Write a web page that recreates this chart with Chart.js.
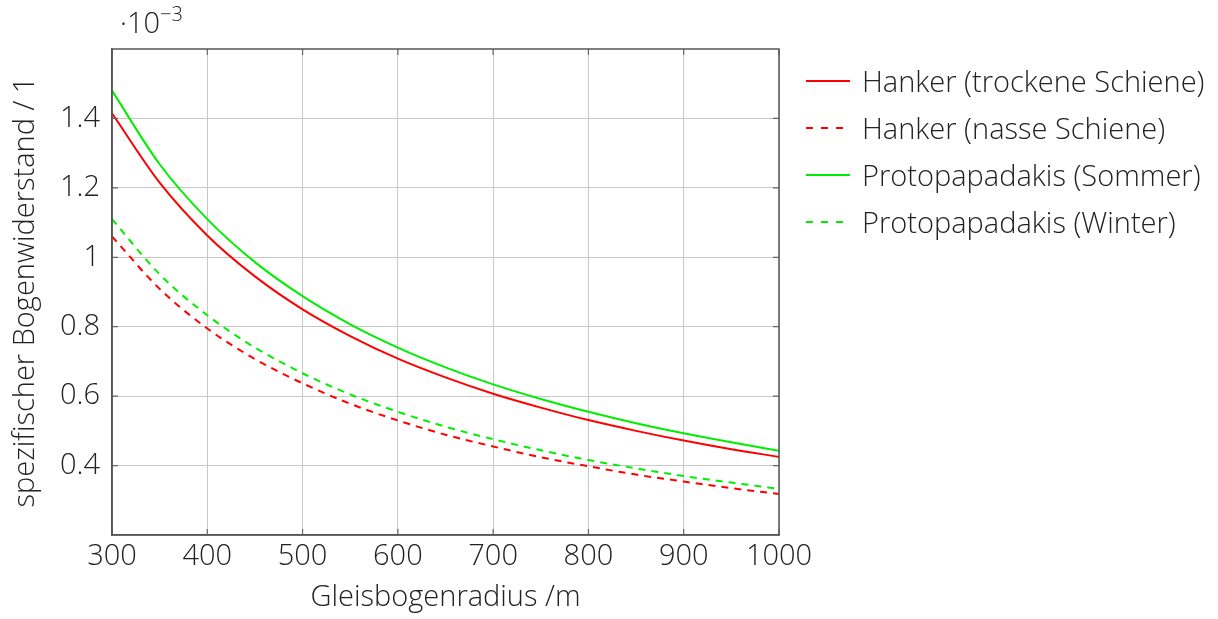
<!DOCTYPE html>
<html>
<head>
<meta charset="utf-8">
<script src="https://cdn.jsdelivr.net/npm/chart.js@4"></script>
<style>
  html, body { margin: 0; padding: 0; background: #fff; }
  .wrap { position: relative; width: 1218px; height: 619px; font-family: "Open Sans", sans-serif; font-weight: 300; color: #222; }
  canvas { position: absolute; left: 0; top: 0; }
  .exp { position: absolute; left: 120px; top: 2px; font-size: 29px; }
  .exp sup { font-size: 20px; position: relative; top: -2px; vertical-align: top; }
  .legend { position: absolute; left: 806px; top: 57px; font-size: 29px; }
  .legend .row { height: 47px; display: flex; align-items: center; }
  .legend svg { margin-right: 12px; }
</style>
</head>
<body>
<div class="wrap">
  <canvas id="myChart" width="1218" height="619"></canvas>
  <div class="exp">&middot;10<sup>&minus;3</sup></div>
  <div class="legend" id="legend"></div>
</div>
<script>
// ------------------------Data--------------------------------
const radius = [300, 350, 400, 450, 500, 550, 600, 650, 700, 750, 800, 850, 900, 950, 1000]
const hankerDry = [1.415, 1.215, 1.063, 0.945, 0.850, 0.773, 0.708, 0.654, 0.607, 0.567, 0.531, 0.500, 0.472, 0.447, 0.425]
const hankerWet = [1.060, 0.909, 0.795, 0.707, 0.637, 0.578, 0.530, 0.489, 0.455, 0.424, 0.398, 0.374, 0.354, 0.335, 0.318]
const protoSummer = [1.480, 1.268, 1.110, 0.986, 0.888, 0.807, 0.740, 0.683, 0.634, 0.592, 0.555, 0.522, 0.493, 0.467, 0.443]
const protoWinter = [1.110, 0.951, 0.833, 0.740, 0.666, 0.605, 0.555, 0.512, 0.476, 0.444, 0.416, 0.392, 0.370, 0.351, 0.333]
const xTicks = [300, 400, 500, 600, 700, 800, 900, 1000]
const yTicks = [0.4, 0.6, 0.8, 1, 1.2, 1.4]

const seriesNames = ['Hanker (trockene Schiene)', 'Hanker (nasse Schiene)', 'Protopapadakis (Sommer)', 'Protopapadakis (Winter)']
const seriesColors = ['#ff0000', '#ff0000', '#00ee00', '#00ee00']
const seriesDashed = [false, true, false, true]
const seriesValues = [hankerDry, hankerWet, protoSummer, protoWinter]

// ------------------------Build datasets------------------------------
const datasets = seriesValues.map((vals, i) => ({
  label: seriesNames[i],
  data: vals.map((v, j) => ({ x: radius[j], y: v })),
  borderColor: seriesColors[i],
  borderWidth: 2,
  borderDash: seriesDashed[i] ? [7, 6] : [],
  pointRadius: 0,
  cubicInterpolationMode: 'monotone',
  fill: false
}))

const tickFont = { family: 'Open Sans', weight: 300, size: 29 }

const chartConfig = {
  type: 'line',
  data: { datasets },
  options: {
    responsive: false,
    animation: false,
    layout: { padding: { left: 0, top: 49, right: 439, bottom: 0 } },
    plugins: { legend: { display: false }, tooltip: { enabled: false } },
    scales: {
      x: {
        type: 'linear',
        min: 300,
        max: 1000,
        afterBuildTicks: (s) => { s.ticks = xTicks.map(v => ({ value: v })) },
        afterFit: (s) => { s.height = 84 },
        ticks: { font: tickFont, color: '#222', padding: 4, maxRotation: 0, callback: (v) => String(v) },
        grid: { color: '#c8c8c8', lineWidth: 1, drawTicks: false },
        border: { color: '#555', width: 1.5 },
        title: { display: true, text: 'Gleisbogenradius /m', font: tickFont, color: '#222', padding: { top: 4 } }
      },
      y: {
        min: 0.2,
        max: 1.6,
        afterBuildTicks: (s) => { s.ticks = yTicks.map(v => ({ value: v })) },
        afterFit: (s) => { s.width = 112 },
        ticks: { font: tickFont, color: '#222', padding: 12, callback: (v) => String(v) },
        grid: { color: '#c8c8c8', lineWidth: 1, drawTicks: false },
        border: { color: '#555', width: 1.5 },
        title: { display: true, text: 'spezifischer Bogenwiderstand / 1', font: tickFont, color: '#222', padding: { top: 8, bottom: 0 } }
      }
    }
  },
  plugins: [{
    id: 'frame',
    afterDraw: (chart) => {
      const { ctx, chartArea: a, scales } = chart
      ctx.save()
      ctx.strokeStyle = '#666'
      ctx.lineWidth = 1.2
      // inward tick marks on every side
      xTicks.forEach(v => {
        const px = scales.x.getPixelForValue(v)
        ctx.beginPath()
        ctx.moveTo(px, a.top); ctx.lineTo(px, a.top + 6)
        ctx.moveTo(px, a.bottom); ctx.lineTo(px, a.bottom - 6)
        ctx.stroke()
      })
      yTicks.forEach(v => {
        const py = scales.y.getPixelForValue(v)
        ctx.beginPath()
        ctx.moveTo(a.left, py); ctx.lineTo(a.left + 6, py)
        ctx.moveTo(a.right, py); ctx.lineTo(a.right - 6, py)
        ctx.stroke()
      })
      ctx.strokeStyle = '#555'
      ctx.lineWidth = 1.5
      ctx.strokeRect(a.left, a.top, a.right - a.left, a.bottom - a.top)
      ctx.restore()
    }
  }]
}

const chartCanvas = document.getElementById('myChart')
const myChart = new Chart(chartCanvas, chartConfig)

// ------------------------Legend------------------------------------
const legendBox = document.getElementById('legend')
seriesNames.forEach((name, i) => {
  const row = document.createElement('div')
  row.className = 'row'
  const dash = seriesDashed[i] ? 'stroke-dasharray="7 8"' : ''
  row.innerHTML = `<svg width="44" height="4"><line x1="0" y1="2" x2="44" y2="2" stroke="${seriesColors[i]}" stroke-width="2" ${dash}/></svg>${name}`
  legendBox.appendChild(row)
})
</script>
</body>
</html>
